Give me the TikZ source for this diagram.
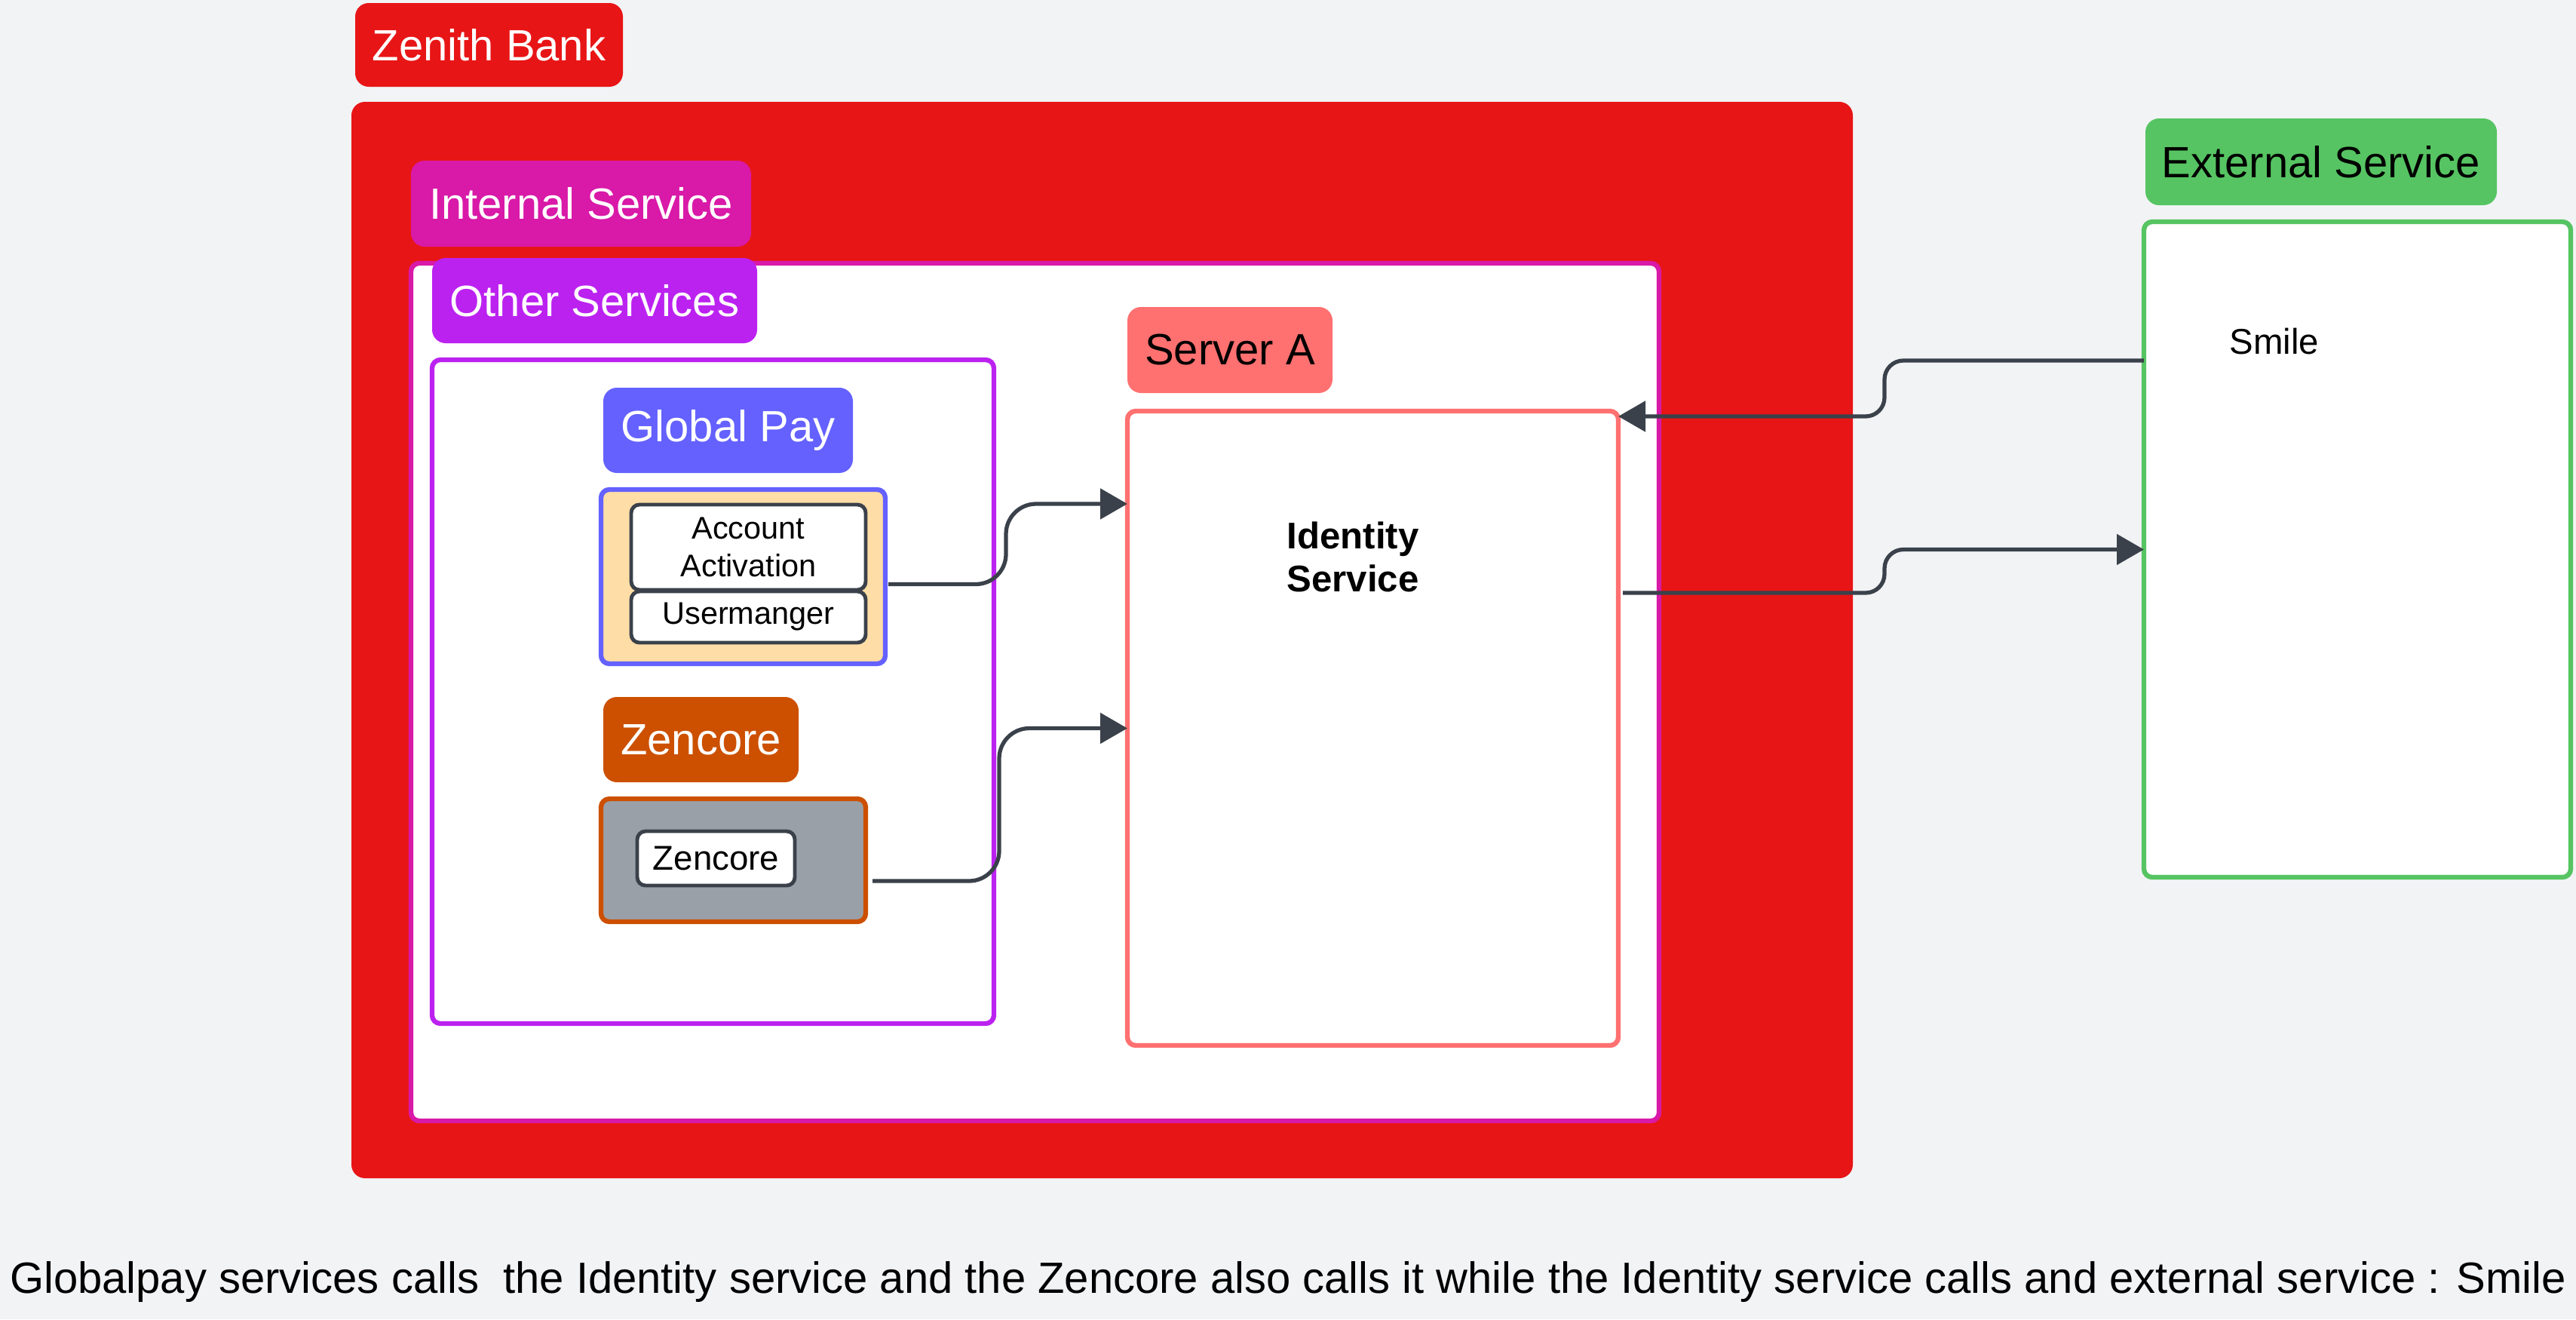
\documentclass[tikz,border=0pt]{standalone}
\usepackage{fontspec}
\setmainfont{Liberation Sans}
\usetikzlibrary{arrows.meta}
\definecolor{bgcol}{RGB}{242,243,245}
\definecolor{zenithred}{RGB}{232,21,22}
\definecolor{internalmag}{RGB}{217,25,168}
\definecolor{otherpurple}{RGB}{187,34,240}
\definecolor{gpblue}{RGB}{100,97,255}
\definecolor{gppeach}{RGB}{255,221,166}
\definecolor{zcorange}{RGB}{204,80,0}
\definecolor{zcgrey}{RGB}{154,160,168}
\definecolor{srvsalmon}{RGB}{255,112,112}
\definecolor{extgreen}{RGB}{86,196,98}
\definecolor{darkline}{RGB}{58,65,74}
\tikzset{
  tag/.style={rounded corners=1.8mm, inner sep=0pt, outer sep=0pt, anchor=north west, text=white, font=\fontsize{16.5}{19.8}\selectfont},
  group/.style={rounded corners=1.1mm, line width=1.8pt, fill=white, inner sep=0pt, outer sep=0pt, anchor=north west},
  item/.style={draw=darkline, fill=white, rounded corners=1.1mm, line width=1.4pt, inner sep=0pt, outer sep=0pt, anchor=north west, align=center, font=\fontsize{11.8}{14.2}\selectfont},
  flow/.style={draw=darkline, line width=1.5pt, rounded corners=4mm, -{Triangle[length=3.6mm,width=4mm]}}
}
\begin{document}
\begin{tikzpicture}[x=1cm,y=-1cm]
\fill[bgcol] (0,0) rectangle (34.16,17.49);
\useasboundingbox (0,0) rectangle (34.16,17.49);
\node[tag, fill=zenithred, minimum width=3.55cm, minimum height=1.11cm] (zenithtag) at (4.71,0.04) {Zenith Bank};
\node[group, fill=zenithred, rounded corners=1.8mm, minimum width=19.91cm, minimum height=14.27cm] (zenith) at (4.66,1.35) {};
\node[tag, fill=internalmag, minimum width=4.51cm, minimum height=1.14cm] (inttag) at (5.45,2.13) {Internal Service};
\node[group, draw=internalmag, minimum width=16.55cm, minimum height=11.37cm] (intbox) at (5.45,3.49) {};
\node[group, draw=otherpurple, minimum width=7.45cm, minimum height=8.80cm] (othbox) at (5.73,4.77) {};
\node[tag, fill=otherpurple, minimum width=4.31cm, minimum height=1.13cm] (othtag) at (5.73,3.42) {Other Services};
\node[tag, fill=gpblue, minimum width=3.31cm, minimum height=1.13cm] (gptag) at (8.00,5.14) {Global Pay};
\node[group, draw=gpblue, fill=gppeach, minimum width=3.77cm, minimum height=2.31cm] (gpbox) at (7.97,6.49) {};
\node[item, minimum width=3.11cm, minimum height=1.13cm] (acct) at (8.37,6.69) {Account\\Activation};
\node[item, minimum width=3.11cm, minimum height=0.68cm] (user) at (8.37,7.84) {Usermanger};
\node[tag, fill=zcorange, minimum width=2.59cm, minimum height=1.13cm] (zctag) at (8.00,9.24) {Zencore};
\node[group, draw=zcorange, fill=zcgrey, minimum width=3.51cm, minimum height=1.63cm] (zcbox) at (7.97,10.59) {};
\node[item, font=\fontsize{13}{15.6}\selectfont, minimum width=2.09cm, minimum height=0.72cm] (zcitem) at (8.45,11.02) {Zencore};
\node[tag, fill=srvsalmon, text=black, minimum width=2.72cm, minimum height=1.14cm] (srvtag) at (14.95,4.07) {Server A};
\node[group, draw=srvsalmon, minimum width=6.51cm, minimum height=8.41cm] (srvbox) at (14.95,5.45) {};
\node[font=\bfseries\fontsize{14}{16.2}\selectfont, align=left] (idsvc) at (17.94,7.38) {Identity\\Service};
\node[tag, fill=extgreen, text=black, minimum width=4.66cm, minimum height=1.15cm] (exttag) at (28.45,1.57) {External Service};
\node[group, draw=extgreen, minimum width=5.66cm, minimum height=8.69cm] (extbox) at (28.43,2.94) {};
\node[font=\fontsize{13.5}{16}\selectfont] (smile) at (30.16,4.53) {Smile};
\draw[flow] ([xshift=0.4mm,yshift=-1mm]gpbox.east) -- ++(1.56,0) |- ([yshift=-12.3mm]srvbox.north west);
\draw[flow] ([xshift=0.9mm,yshift=-2.75mm]zcbox.east) -- ++(1.68,0) |- (srvbox.west);
\draw[flow, rounded corners=2.5mm] ([yshift=-18.4mm]extbox.north west) -- ++(-3.44,0) |- ([yshift=-0.7mm]srvbox.north east);
\draw[flow, rounded corners=2.5mm] ([xshift=0.6mm,yshift=-24.1mm]srvbox.north east) -- ++(3.47,0) |- (extbox.west);
\node[font=\fontsize{16.5}{19.8}\selectfont] (caption) at (17.08,16.99) {Globalpay services calls\ \ the Identity service and the Zencore also calls it while the Identity service calls and external service : Smile};
\end{tikzpicture}
\end{document}
